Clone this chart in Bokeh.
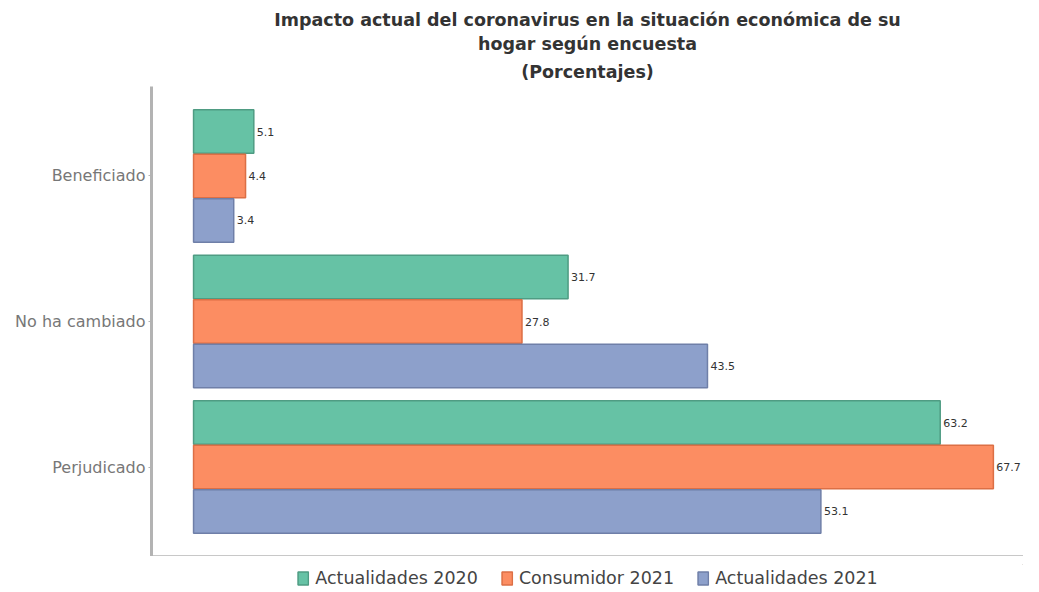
from bokeh.plotting import figure
from bokeh.layouts import column
from bokeh.models import FactorRange, Range1d, ColumnDataSource, Legend, LegendItem, FixedTicker, Title
from bokeh.transform import dodge
from bokeh.core.properties import value
from bokeh.embed import file_html
from bokeh.resources import INLINE

categories = ["Beneficiado", "No ha cambiado", "Perjudicado"]
series = ["Actualidades 2020", "Consumidor 2021", "Actualidades 2021"]
actualidades_2020 = [5.1, 31.7, 63.2]
consumidor_2021 = [4.4, 27.8, 67.7]
actualidades_2021 = [3.4, 43.5, 53.1]
title_lines = ["Impacto actual del coronavirus en la situación económica de su",
               "hogar según encuesta",
               "(Porcentajes)"]

colors = ["#66c2a5", "#fc8d62", "#8da0cb"]
outlines = ["#4f9c83", "#dc6f45", "#6f7fa8"]
offsets = [0.3056, 0.0, -0.3056]
FONT = "DejaVu Sans"

src = ColumnDataSource(dict(
    cat=categories,
    s0=actualidades_2020, s1=consumidor_2021, s2=actualidades_2021,
    l0=[f"{v:.1f}" for v in actualidades_2020],
    l1=[f"{v:.1f}" for v in consumidor_2021],
    l2=[f"{v:.1f}" for v in actualidades_2021],
))

p = figure(
    width=1023, height=556,
    y_range=FactorRange(factors=categories[::-1], range_padding=0.115,
                        range_padding_units="absolute"),
    x_range=Range1d(-3.56, 70.25),
    output_backend="svg", toolbar_location=None,
    min_border_left=151, min_border_right=0, min_border_top=86,
    min_border_bottom=0,
)
p.title.visible = False

standoffs = [9, 3, 2]
for i, t in enumerate(reversed(title_lines)):
    p.add_layout(Title(text=t, align="center", text_font=FONT,
                       text_font_size="17.5px", text_font_style="bold",
                       text_color="#333333", standoff=standoffs[i]), "above")

p.outline_line_color = None
p.xgrid.grid_line_color = None
p.ygrid.grid_line_color = None

p.yaxis.axis_line_color = "#b3b3b3"
p.yaxis.axis_line_width = 3
p.yaxis.major_tick_line_color = "#b3b3b3"
p.yaxis.major_tick_out = 3
p.yaxis.major_tick_in = 0
p.yaxis.major_label_standoff = 3
p.yaxis.major_label_text_font = FONT
p.yaxis.major_label_text_font_size = "16px"
p.yaxis.major_label_text_color = "#777777"

p.xaxis.ticker = FixedTicker(ticks=[])
p.xaxis.axis_line_color = "#c8c8c8"
p.xaxis.axis_line_width = 3
p.xaxis.major_tick_line_color = None
p.xaxis.minor_tick_line_color = None
p.xaxis.major_label_text_font_size = "0px"
p.xaxis.major_label_standoff = 0

for i, name in enumerate(series):
    y = dodge("cat", offsets[i], range=p.y_range)
    p.hbar(y=y, left=0, right=f"s{i}", height=0.30, source=src,
           fill_color=colors[i], line_color=outlines[i], line_width=1.5)
    p.text(x=f"s{i}", y=y, text=f"l{i}", source=src, x_offset=3,
           text_baseline="middle", text_align="left",
           text_font=value(FONT), text_font_size="11px",
           text_color="#333333")

# legend strip below the chart
lg = figure(width=1023, height=36, output_backend="svg", toolbar_location=None,
            x_range=Range1d(0, 1), y_range=Range1d(0, 1),
            min_border_left=20, min_border_right=0, min_border_top=8,
            min_border_bottom=0)
lg.axis.visible = False
lg.grid.visible = False
lg.outline_line_color = None
items = []
for i, name in enumerate(series):
    # single off-screen row so the legend swatch is drawn
    r = lg.hbar(y=[5], left=[5], right=[6], height=0.3,
                fill_color=colors[i], line_color=outlines[i], line_width=1.5)
    items.append(LegendItem(label=name, renderers=[r]))
legend = Legend(items=items, orientation="horizontal", location="center",
                glyph_width=13, glyph_height=16, spacing=22, padding=2,
                label_text_font=FONT, label_text_font_size="17.5px",
                label_text_color="#444444", label_standoff=6,
                border_line_color=None, background_fill_alpha=0)
lg.add_layout(legend, "center")

open("out.html", "w").write(file_html(column(p, lg), INLINE))
